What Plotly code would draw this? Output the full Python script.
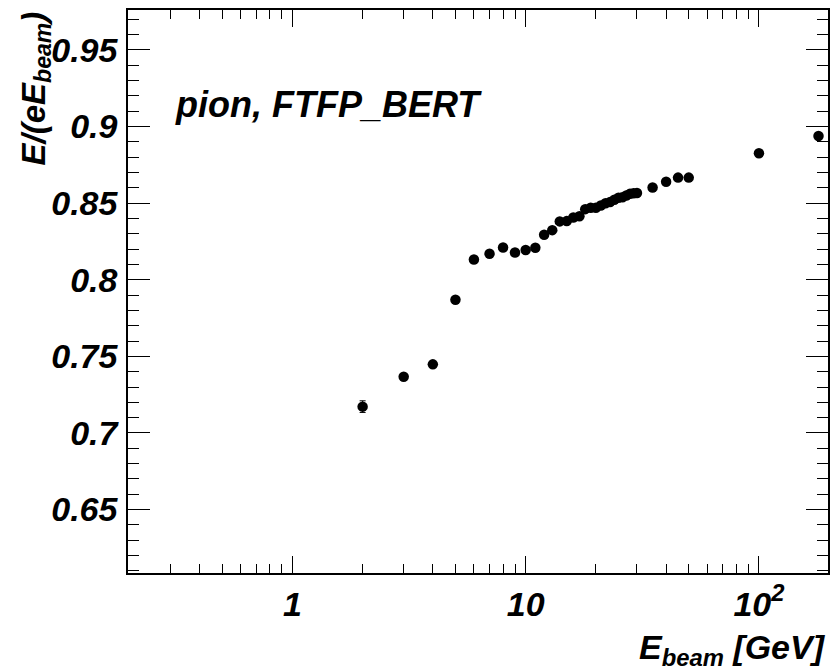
import plotly.graph_objects as go

# Beam energies [GeV] and mean response E/(e*E_beam)
beam_energy = [2, 3, 4, 5, 6, 7, 8, 9, 10, 11, 12, 13, 14, 15, 16, 17, 18, 19, 20,
               21, 22, 23, 24, 25, 26, 27, 28, 29, 30, 35, 40, 45, 50, 100, 180]
response = [0.7172, 0.7367, 0.7448, 0.7870, 0.8132, 0.8170, 0.8211, 0.8178, 0.8194,
            0.8209, 0.8294, 0.8324, 0.8381, 0.8383, 0.8407, 0.8415, 0.8461, 0.8470,
            0.8470, 0.8485, 0.8500, 0.8507, 0.8522, 0.8535, 0.8539, 0.8550, 0.8561,
            0.8565, 0.8567, 0.8602, 0.8640, 0.8667, 0.8667, 0.8826, 0.8939]
response_err = [0.0038, 0.0020, 0.0018, 0.0015, 0.0012, 0.0012, 0.0012, 0.0012, 0.0012,
                0.0012, 0.0012, 0.0012, 0.0012, 0.0012, 0.0012, 0.0012, 0.0012, 0.0012,
                0.0012, 0.0012, 0.0012, 0.0012, 0.0012, 0.0012, 0.0012, 0.0012, 0.0012,
                0.0012, 0.0012, 0.0012, 0.0012, 0.0012, 0.0012, 0.0012, 0.0012]

x_major_vals = [1, 10, 100]
x_major_text = ["1", "10", "10<sup>2</sup>"]
x_minor_vals = [0.3, 0.4, 0.5, 0.6, 0.7, 0.8, 0.9,
                2, 3, 4, 5, 6, 7, 8, 9,
                20, 30, 40, 50, 60, 70, 80, 90]
y_major_vals = [0.65, 0.7, 0.75, 0.8, 0.85, 0.9, 0.95]
y_major_text = ["0.65", "0.7", "0.75", "0.8", "0.85", "0.9", "0.95"]

FONT = "Liberation Sans, Arial, Helvetica, sans-serif"

fig = go.Figure()
fig.add_trace(go.Scatter(
    x=beam_energy, y=response, mode="markers",
    marker=dict(color="black", size=10.5, symbol="circle"),
    error_y=dict(type="data", array=response_err, color="black",
                 thickness=1, width=3),
    showlegend=False,
))

axis_common = dict(
    showgrid=False, zeroline=False,
    showline=True, linecolor="black", linewidth=1.5,
    mirror="allticks", ticks="inside", tickcolor="black", tickwidth=1,
)

fig.update_xaxes(
    type="log", range=[-0.7047, 2.296],
    tickmode="array", tickvals=x_major_vals, ticktext=x_major_text,
    ticklen=17, ticklabelstandoff=0,
    tickfont=dict(size=34, color="black"),
    minor=dict(tickmode="array", tickvals=x_minor_vals, ticks="inside",
               ticklen=9, tickcolor="black", tickwidth=1, showgrid=False),
    **axis_common,
)
fig.update_yaxes(
    range=[0.6086, 0.9761],
    tickmode="array", tickvals=y_major_vals, ticktext=y_major_text,
    ticklen=22, ticklabelstandoff=2,
    tickfont=dict(size=34, color="black"),
    minor=dict(dtick=0.01, tick0=0.6, ticks="inside", ticklen=11,
               tickcolor="black", tickwidth=1, showgrid=False),
    **axis_common,
)

fig.add_annotation(
    text="pion, FTFP_BERT", xref="paper", yref="paper",
    x=0.064, y=0.833, xanchor="left", yanchor="middle", showarrow=False,
    font=dict(size=36, color="black"),
)
fig.add_annotation(
    text="E<sub>beam</sub> [GeV]", xref="paper", yref="paper",
    x=1.0, y=-0.095, xanchor="right", yanchor="top", showarrow=False,
    font=dict(size=34, color="black"),
)
fig.add_annotation(
    text="E/(eE<sub>beam</sub>)", xref="paper", yref="paper",
    x=-0.165, y=1.0, xanchor="left", yanchor="top", showarrow=False,
    textangle=-90, font=dict(size=33, color="black"),
)

fig.update_layout(
    width=833, height=670,
    margin=dict(l=128, r=3, t=10, b=97),
    paper_bgcolor="white", plot_bgcolor="white",
    font=dict(family=FONT, weight="bold", style="italic", color="black"),
)

fig.write_html("out.html")
